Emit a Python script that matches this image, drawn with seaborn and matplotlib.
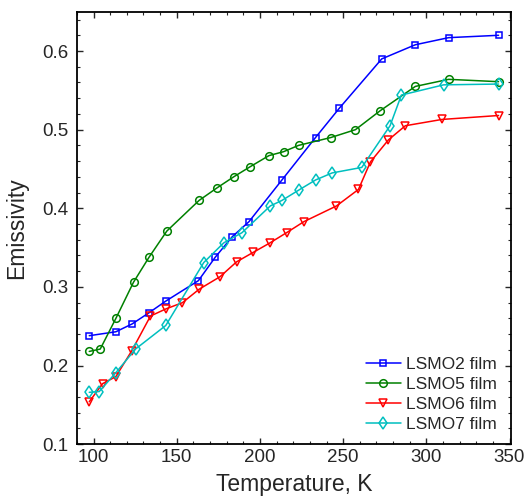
import matplotlib
matplotlib.use("Agg")
import matplotlib.pyplot as plt
import seaborn as sns
import pandas as pd
from matplotlib.ticker import MultipleLocator

# Data
t_lsmo2 = [97.4, 113.4, 123.2, 133.2, 143.4, 163.0, 173.2, 183.4, 193.4, 213.2, 233.4, 247.6, 273.2, 293.4, 313.4, 343.4]
e_lsmo2 = [0.238, 0.243, 0.253, 0.267, 0.282, 0.308, 0.338, 0.364, 0.383, 0.436, 0.490, 0.527, 0.590, 0.608, 0.617, 0.620]

t_lsmo5 = [97.4, 104.0, 113.4, 124.0, 133.4, 144.0, 163.4, 174.2, 184.2, 194.2, 205.4, 214.2, 223.2, 242.6, 257.4, 272.2, 293.4, 313.4, 343.4]
e_lsmo5 = [0.218, 0.221, 0.260, 0.306, 0.338, 0.371, 0.410, 0.426, 0.440, 0.453, 0.467, 0.472, 0.480, 0.490, 0.500, 0.524, 0.555, 0.564, 0.561]

t_lsmo6 = [97.4, 105.4, 113.4, 123.0, 134.2, 143.4, 153.4, 163.4, 176.0, 186.0, 196.0, 206.0, 216.0, 226.4, 246.0, 259.2, 266.4, 277.2, 287.4, 309.4, 343.4]
e_lsmo6 = [0.154, 0.177, 0.186, 0.219, 0.263, 0.272, 0.280, 0.297, 0.313, 0.332, 0.344, 0.356, 0.369, 0.383, 0.403, 0.424, 0.459, 0.487, 0.505, 0.513, 0.518]

t_lsmo7 = [97.4, 103.4, 113.4, 125.2, 143.4, 166.2, 178.2, 189.2, 206.2, 213.2, 223.2, 233.4, 243.4, 261.2, 278.2, 285.0, 310.4, 343.4]
e_lsmo7 = [0.166, 0.167, 0.191, 0.221, 0.251, 0.331, 0.356, 0.369, 0.403, 0.410, 0.423, 0.436, 0.445, 0.452, 0.505, 0.544, 0.557, 0.558]

series_names = ["LSMO2 film", "LSMO5 film", "LSMO6 film", "LSMO7 film"]

sns.set_style("ticks")
plt.rcParams['font.family'] = ['Liberation Sans', 'DejaVu Sans']

fig = plt.figure(figsize=(5.27, 4.98), dpi=100)
ax = fig.add_axes([0.146, 0.108, 0.824, 0.8685])

styles = [
    (t_lsmo2, e_lsmo2, "s", "#0000ff", 4.5),
    (t_lsmo5, e_lsmo5, "o", "#008000", 5.5),
    (t_lsmo6, e_lsmo6, "v", "#ff0000", 6.0),
    (t_lsmo7, e_lsmo7, "d", "#00bfbf", 6.0),
]
for name, (tx, ey, mk, col, ms) in zip(series_names, styles):
    df = pd.DataFrame({"T": tx, "E": ey})
    sns.lineplot(data=df, x="T", y="E", ax=ax, sort=False, color=col, marker=mk,
                 markersize=ms, markerfacecolor="none", markeredgecolor=col,
                 markeredgewidth=1.1, linewidth=1.1, label=name)

ax.set_xlim(90, 351)
ax.set_ylim(0.1, 0.65)
ax.xaxis.set_major_locator(MultipleLocator(50))
ax.xaxis.set_minor_locator(MultipleLocator(10))
ax.yaxis.set_major_locator(MultipleLocator(0.1))
ax.yaxis.set_minor_locator(MultipleLocator(0.02))
ax.set_yticks([0.1, 0.2, 0.3, 0.4, 0.5, 0.6])
ax.set_yticklabels(["0.1", "0.2", "0.3", "0.4", "0.5", "0.6"])
ax.tick_params(which="both", direction="in", top=True, right=True, labelsize=13.5)
ax.tick_params(axis="y", which="major", pad=6)
ax.tick_params(which="major", length=4, width=1)
ax.tick_params(which="minor", length=2, width=0.8)
for s in ax.spines.values():
    s.set_linewidth(1.3)
    s.set_color("black")

ax.set_xlabel("Temperature, K", fontsize=16.5, labelpad=5)
ax.set_ylabel("Emissivity", fontsize=16.5, labelpad=10)

leg = ax.legend(loc="lower right", frameon=False, fontsize=12.5, handlelength=2.0,
                labelspacing=0.28, handletextpad=0.3, borderaxespad=0.3,
                bbox_to_anchor=(0.995, 0.0))

fig.savefig("out.png", dpi=100)
